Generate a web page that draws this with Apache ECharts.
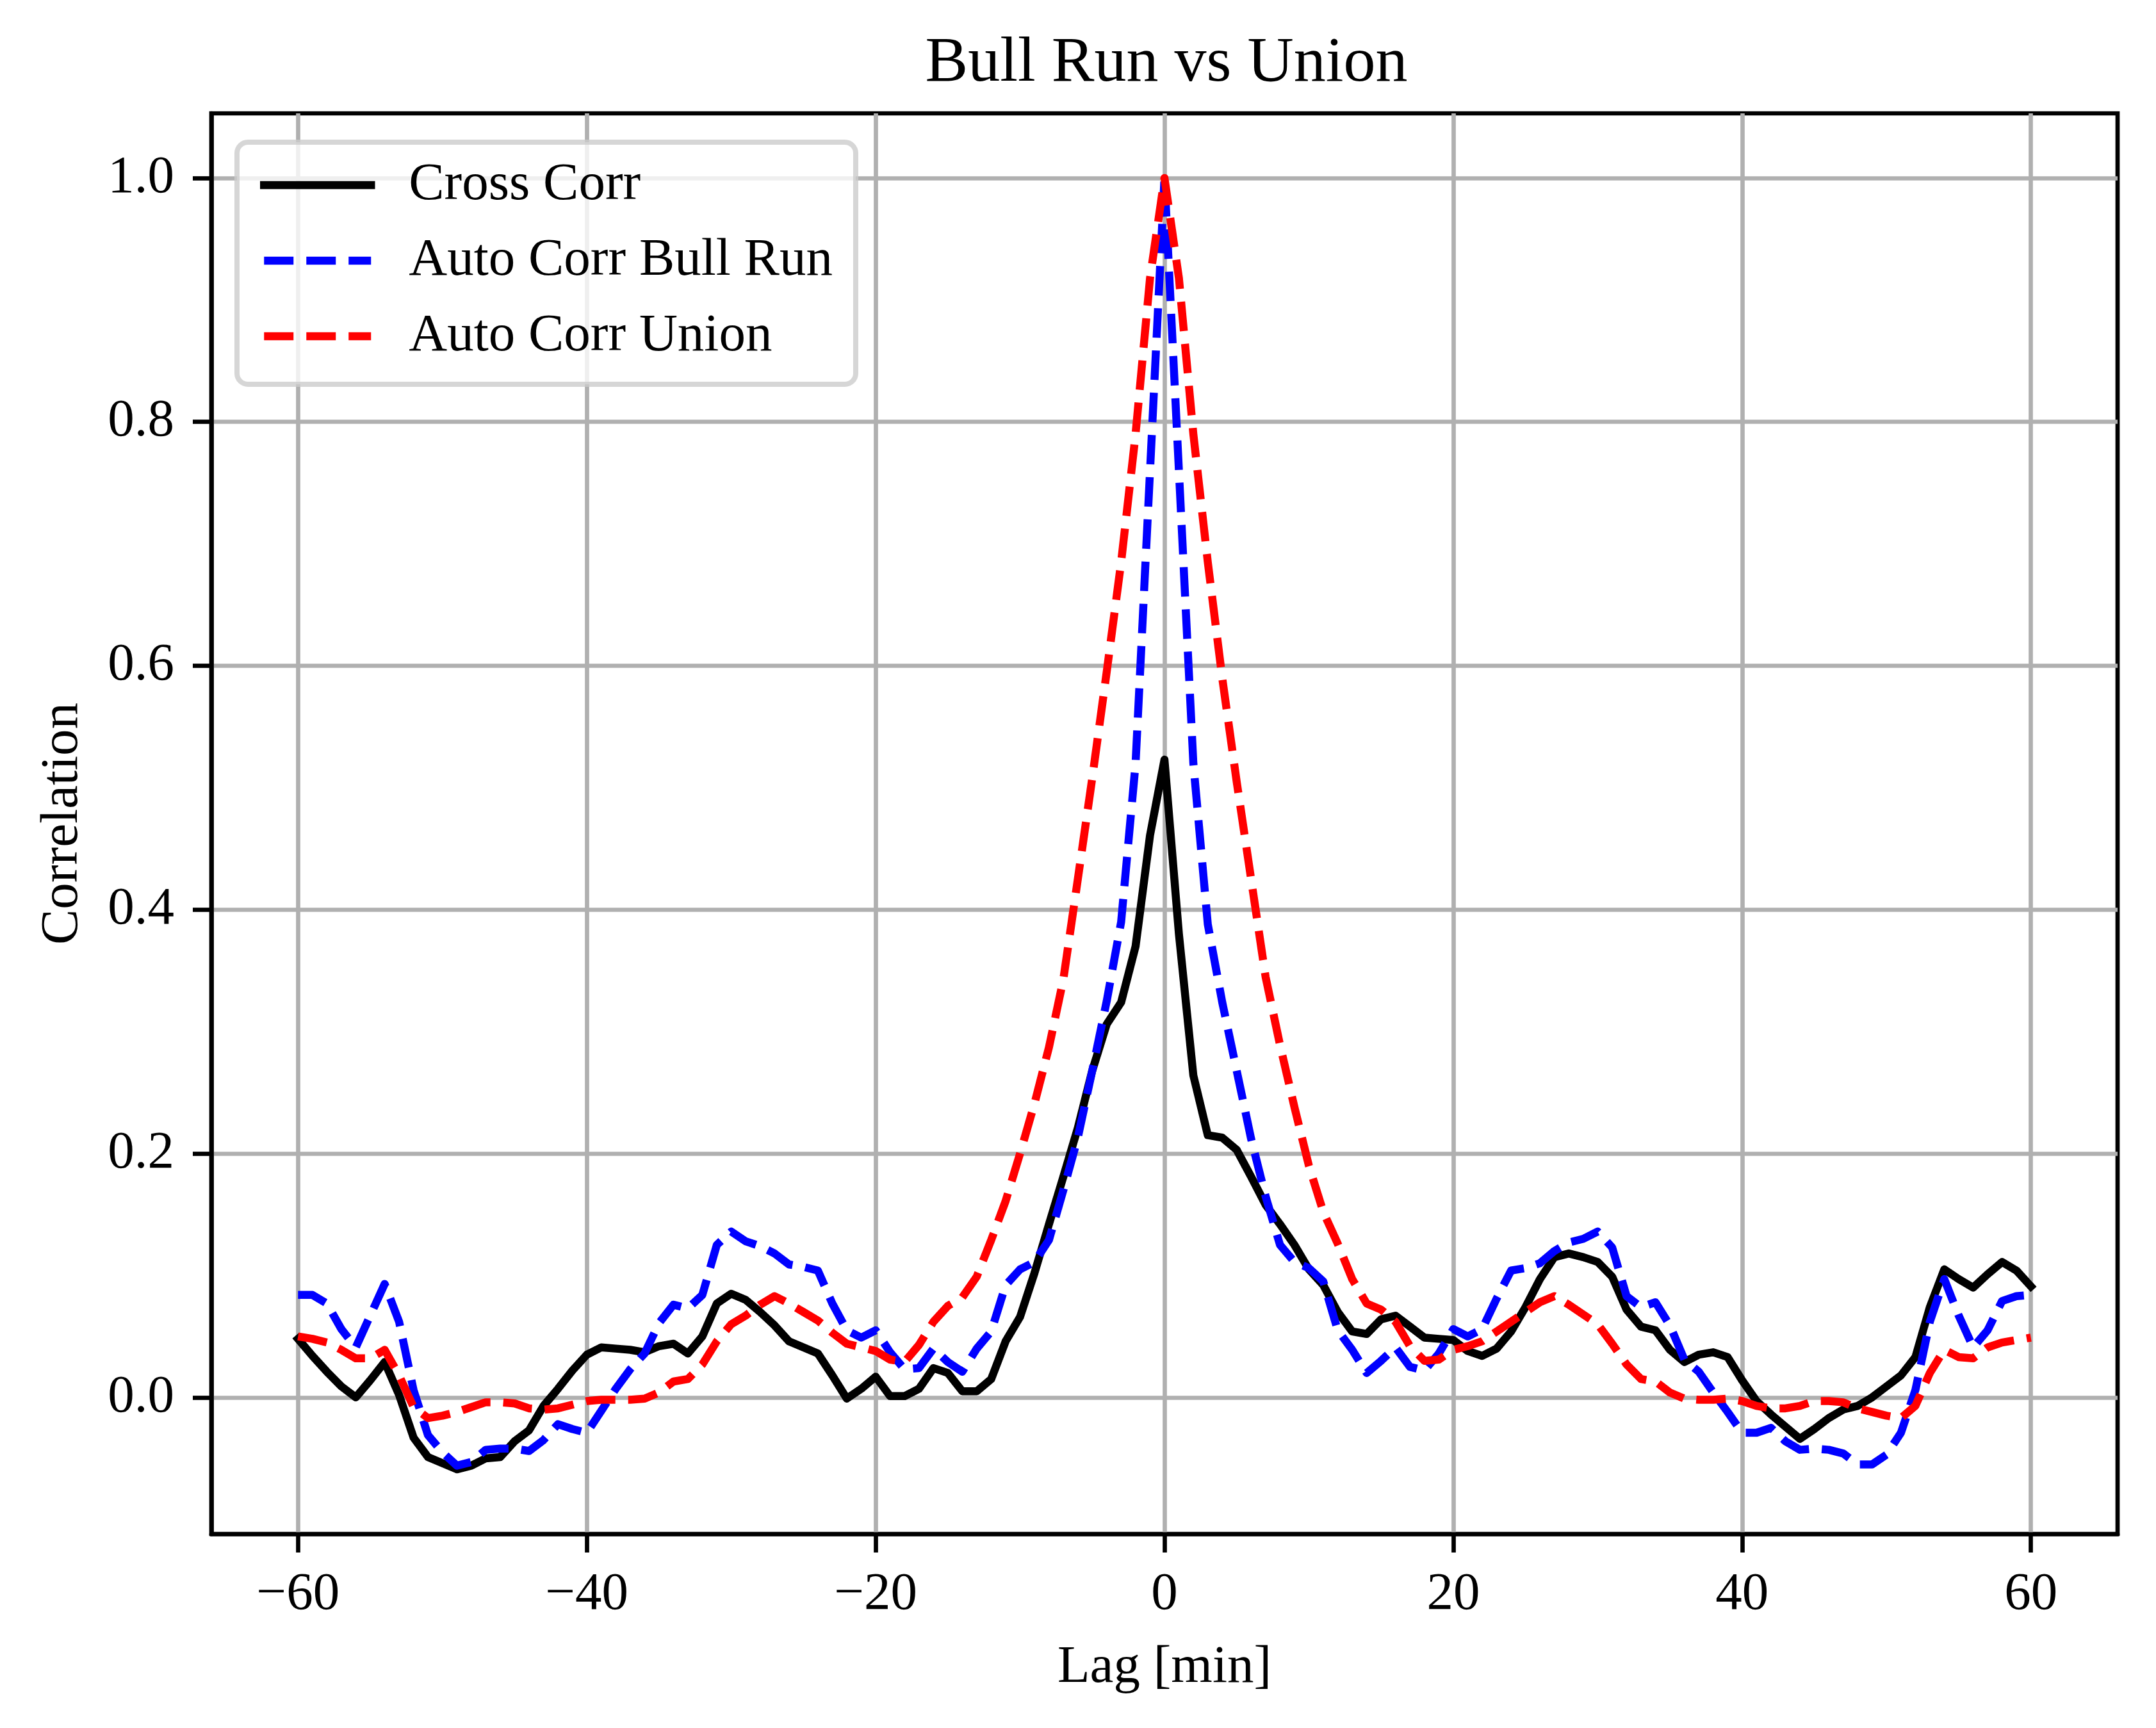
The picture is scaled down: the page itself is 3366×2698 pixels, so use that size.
<!DOCTYPE html>
<html>
<head>
<meta charset="utf-8">
<script src="https://cdn.jsdelivr.net/npm/echarts@6/dist/echarts.min.js"></script>
<style>
  html, body { margin: 0; padding: 0; background: #fff; }
  #chart { width: 3366px; height: 2698px; }
</style>
</head>
<body>
<div id="chart"></div>
<script>
// ---- data ----
const LAG_MIN = -60, LAG_MAX = 60;
const lags = [];
for (let k = LAG_MIN; k <= LAG_MAX; k++) lags.push(k);

const xTicks = [-60, -40, -20, 0, 20, 40, 60];
const yTicks = [0.0, 0.2, 0.4, 0.6, 0.8, 1.0];

const seriesNames = ['Cross Corr', 'Auto Corr Bull Run', 'Auto Corr Union'];

// lag -60 ... 60
const crossCorr = [
  0.048, 0.034, 0.021, 0.009, 0.000, 0.014, 0.029, 0.002, -0.033, -0.049,
  -0.054, -0.059, -0.056, -0.050, -0.049, -0.036, -0.027, -0.007, 0.007, 0.022,
  0.035, 0.041, 0.040, 0.039, 0.037, 0.042, 0.044, 0.036, 0.050, 0.077,
  0.085, 0.080, 0.070, 0.059, 0.046, 0.041, 0.036, 0.018, -0.001, 0.007,
  0.017, 0.001, 0.001, 0.007, 0.024, 0.020, 0.005, 0.005, 0.015, 0.046,
  0.066, 0.102, 0.142, 0.181, 0.221, 0.268, 0.306, 0.324, 0.370, 0.461,
  0.523,
  0.380, 0.264, 0.215, 0.213, 0.203, 0.181, 0.158, 0.142, 0.125, 0.105,
  0.092, 0.070, 0.054, 0.052, 0.064, 0.067, 0.058, 0.049, 0.048, 0.047,
  0.038, 0.034, 0.040, 0.054, 0.074, 0.097, 0.115, 0.118, 0.115, 0.111,
  0.099, 0.072, 0.058, 0.055, 0.039, 0.029, 0.035, 0.037, 0.033, 0.014,
  -0.003, -0.014, -0.024, -0.034, -0.026, -0.017, -0.010, -0.007, 0.000, 0.009,
  0.018, 0.033, 0.074, 0.105, 0.097, 0.090, 0.101, 0.111, 0.104, 0.091
];

const autoBullRun = [
  0.084, 0.084, 0.077, 0.056, 0.041, 0.067, 0.093, 0.062, 0.006, -0.031,
  -0.045, -0.056, -0.053, -0.043, -0.042, -0.042, -0.044, -0.035, -0.022, -0.026,
  -0.029, -0.011, 0.007, 0.023, 0.036, 0.061, 0.076, 0.073, 0.084, 0.125,
  0.136, 0.128, 0.124, 0.118, 0.109, 0.107, 0.104, 0.077, 0.055, 0.049,
  0.055, 0.037, 0.023, 0.024, 0.040, 0.029, 0.021, 0.040, 0.054, 0.092,
  0.105, 0.111, 0.129, 0.170, 0.213, 0.268, 0.325, 0.390, 0.520, 0.760,
  1.000,
  0.760, 0.520, 0.388, 0.324, 0.268, 0.212, 0.165, 0.125, 0.111, 0.106,
  0.095, 0.055, 0.039, 0.020, 0.030, 0.041, 0.025, 0.022, 0.036, 0.056,
  0.050, 0.056, 0.081, 0.104, 0.106, 0.110, 0.120, 0.127, 0.130, 0.136,
  0.123, 0.083, 0.074, 0.078, 0.059, 0.031, 0.021, 0.004, -0.012, -0.029,
  -0.029, -0.025, -0.036, -0.043, -0.042, -0.043, -0.046, -0.055, -0.055, -0.047,
  -0.029, 0.006, 0.062, 0.097, 0.067, 0.041, 0.055, 0.079, 0.083, 0.084
];

const autoUnion = [
  0.050, 0.048, 0.045, 0.039, 0.032, 0.032, 0.039, 0.018, -0.008, -0.017,
  -0.015, -0.012, -0.008, -0.004, -0.004, -0.005, -0.009, -0.010, -0.009, -0.006,
  -0.003, -0.002, -0.002, -0.002, -0.001, 0.004, 0.013, 0.015, 0.027, 0.046,
  0.060, 0.067, 0.076, 0.083, 0.077, 0.070, 0.063, 0.053, 0.044, 0.041,
  0.038, 0.031, 0.029, 0.043, 0.062, 0.075, 0.082, 0.099, 0.129, 0.161,
  0.200, 0.241, 0.287, 0.343, 0.425, 0.508, 0.595, 0.685, 0.790, 0.918,
  1.000,
  0.918, 0.790, 0.685, 0.590, 0.505, 0.425, 0.345, 0.289, 0.238, 0.190,
  0.152, 0.126, 0.097, 0.077, 0.072, 0.062, 0.042, 0.030, 0.031, 0.039,
  0.042, 0.046, 0.054, 0.062, 0.070, 0.078, 0.083, 0.076, 0.068, 0.060,
  0.044, 0.027, 0.015, 0.013, 0.004, -0.001, -0.002, -0.002, -0.001, -0.003,
  -0.007, -0.009, -0.009, -0.007, -0.003, -0.003, -0.004, -0.009, -0.012, -0.015,
  -0.017, -0.007, 0.020, 0.039, 0.033, 0.032, 0.041, 0.045, 0.047, 0.049
];

// ---- chart ----
const FONT = "'Liberation Serif', 'Times New Roman', 'DejaVu Serif', serif";
const LW = 12.5;
const DASH = [46, 20];

const pairs = (vals) => lags.map((k, i) => [k, vals[i]]);
const minusFmt = (v) => (v < 0 ? '\u2212' + Math.abs(v) : String(v));

const chart = echarts.init(document.getElementById('chart'), null, { renderer: 'canvas' });

const axisCommon = {
  axisLine: { show: true, onZero: false, lineStyle: { color: '#000', width: 6.7 } },
  axisTick: { show: true, inside: false, length: 29, lineStyle: { color: '#000', width: 6.7 } },
  splitLine: { show: true, lineStyle: { color: '#b0b0b0', width: 6.7 } },
  nameTextStyle: { fontFamily: FONT, fontSize: 83, color: '#000' }
};

chart.setOption({
  backgroundColor: '#ffffff',
  animation: false,
  title: {
    text: 'Bull Run vs Union',
    left: 1816,
    top: 45,
    textAlign: 'center',
    textStyle: { fontFamily: FONT, fontSize: 100, fontWeight: 'normal', color: '#000' }
  },
  grid: {
    left: 330, right: 60, top: 177, bottom: 303,
    show: true, borderColor: '#000', borderWidth: 6.7, backgroundColor: 'transparent',
    containLabel: false
  },
  legend: {
    data: seriesNames,
    orient: 'vertical',
    left: 370,
    top: 222,
    padding: [25.5, 36, 33.5, 36],
    itemWidth: 167,
    itemHeight: 14,
    itemGap: 35,
    backgroundColor: 'rgba(255,255,255,0.8)',
    borderColor: 'rgba(204,204,204,0.8)',
    borderWidth: 8,
    borderRadius: 17,
    lineStyle: { width: LW },
    textStyle: { fontFamily: FONT, fontSize: 83, color: '#000', lineHeight: 83, padding: [0, 0, 0, 54] }
  },
  xAxis: Object.assign({}, axisCommon, {
    type: 'value',
    min: -66,
    max: 66,
    name: 'Lag [min]',
    nameLocation: 'middle',
    nameGap: 168,
    axisTick: Object.assign({}, axisCommon.axisTick, { customValues: xTicks }),
    axisLabel: {
      customValues: xTicks,
      formatter: minusFmt,
      margin: 54,
      fontFamily: FONT, fontSize: 83, color: '#000'
    }
  }),
  yAxis: Object.assign({}, axisCommon, {
    type: 'value',
    min: -0.112,
    max: 1.053,
    name: 'Correlation',
    nameLocation: 'middle',
    nameGap: 190,
    nameRotate: 90,
    axisTick: Object.assign({}, axisCommon.axisTick, { customValues: yTicks }),
    axisLabel: {
      customValues: yTicks,
      formatter: (v) => Number(v).toFixed(1),
      margin: 58,
      fontFamily: FONT, fontSize: 83, color: '#000'
    }
  }),
  series: [
    {
      name: seriesNames[0], type: 'line', data: pairs(crossCorr),
      showSymbol: false, symbol: 'none', smooth: false,
      lineStyle: { color: '#000000', width: LW, type: 'solid', join: 'round', cap: 'square' },
      itemStyle: { color: '#000000' }, z: 2
    },
    {
      name: seriesNames[1], type: 'line', data: pairs(autoBullRun),
      showSymbol: false, symbol: 'none', smooth: false,
      lineStyle: { color: '#0000ff', width: LW, type: DASH, join: 'round', cap: 'butt' },
      itemStyle: { color: '#0000ff' }, z: 3
    },
    {
      name: seriesNames[2], type: 'line', data: pairs(autoUnion),
      showSymbol: false, symbol: 'none', smooth: false,
      lineStyle: { color: '#ff0000', width: LW, type: DASH, join: 'round', cap: 'butt' },
      itemStyle: { color: '#ff0000' }, z: 4
    }
  ]
});
</script>
</body>
</html>
